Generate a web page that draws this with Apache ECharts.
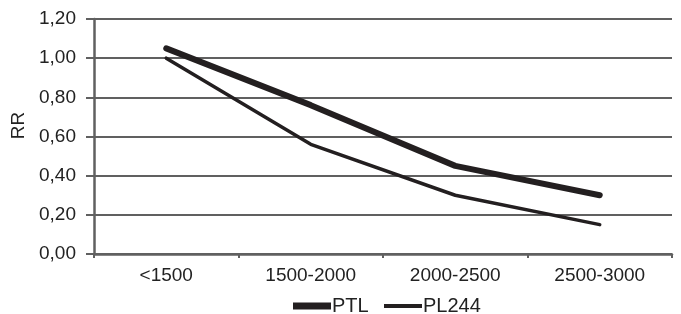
<!DOCTYPE html>
<html>
<head>
<meta charset="utf-8">
<script src="https://cdn.jsdelivr.net/npm/echarts@6/dist/echarts.min.js"></script>
<style>html,body{margin:0;padding:0;background:#fff;}#c{width:681px;height:314px;}</style>
</head>
<body>
<div id="c"></div>
<script>
var categories = ['<1500', '1500-2000', '2000-2500', '2500-3000'];
var ptl = [1.05, 0.76, 0.45, 0.30];
var pl244 = [1.00, 0.56, 0.30, 0.15];

var chart = echarts.init(document.getElementById('c'));
var font = 'Liberation Sans, Arial, sans-serif';
var legendText = {fontFamily: font, fontSize: 20, color: '#222', padding: [0, 0, 0, -4]};
chart.setOption({
  animation: false,
  grid: {left: 94, right: 9, top: 19, bottom: 60, containLabel: false, outerBoundsMode: 'none'},
  legend: [
    {top: 291, left: 288, itemWidth: 38, itemHeight: 7, textStyle: legendText,
      data: [{name: 'PTL', icon: 'rect', itemStyle: {color: '#231f20'}}]},
    {top: 291, left: 379, itemWidth: 38, itemHeight: 4, textStyle: legendText,
      data: [{name: 'PL244', icon: 'rect', itemStyle: {color: '#231f20'}}]}
  ],
  xAxis: {
    type: 'category', data: categories, boundaryGap: true,
    axisLine: {lineStyle: {color: '#606060', width: 2.5}},
    axisTick: {show: true, length: 4, lineStyle: {color: '#606060', width: 2}},
    axisLabel: {margin: 12, fontFamily: font, fontSize: 19, color: '#222'}
  },
  yAxis: {
    type: 'value', min: 0, max: 1.2, interval: 0.2,
    name: 'RR', nameLocation: 'middle', nameGap: 62, nameRotate: 90,
    nameTextStyle: {fontFamily: font, fontSize: 19, color: '#222', padding: [0, 0, 0, 22]},
    axisLine: {show: true, lineStyle: {color: '#606060', width: 2.5}},
    axisTick: {show: true, inside: false, length: 8, lineStyle: {color: '#606060', width: 2}},
    splitLine: {lineStyle: {color: '#606060', width: 1.8}},
    axisLabel: {margin: 18, fontFamily: font, fontSize: 19, color: '#222',
      formatter: function (v) { return v.toFixed(2).replace('.', ','); }}
  },
  series: [
    {name: 'PTL', type: 'line', data: ptl, symbol: 'none',
      lineStyle: {color: '#231f20', width: 6, cap: 'round', join: 'round'}, itemStyle: {color: '#231f20'}},
    {name: 'PL244', type: 'line', data: pl244, symbol: 'none',
      lineStyle: {color: '#231f20', width: 3.5, cap: 'round', join: 'round'}, itemStyle: {color: '#231f20'}}
  ]
});
</script>
</body>
</html>
